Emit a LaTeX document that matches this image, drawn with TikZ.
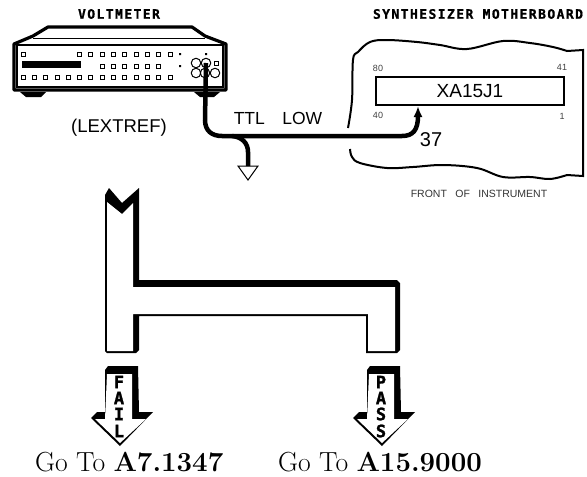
\documentclass[tikz,border=0pt]{standalone}
\usepackage{fontspec}
\setsansfont{Liberation Sans}
\newfontfamily\plotfont[LetterSpace=11, BoldFeatures={FakeBold=1}]{DejaVu Sans Mono}
\newfontfamily\flowfont[BoldFeatures={FakeBold=1.5}]{DejaVu Sans Mono}
\usetikzlibrary{arrows.meta, positioning}
\tikzset{
  titletext/.style={font=\plotfont\bfseries\fontsize{13}{13}\selectfont, inner sep=0pt},
  plainlabel/.style={font=\sffamily\fontsize{18.5}{18.5}\selectfont, inner sep=0pt},
  pintext/.style={font=\sffamily\fontsize{9}{9}\selectfont, text=black!75, inner sep=0pt},
  gotext/.style={font=\fontsize{27.6}{27.6}\selectfont, inner sep=0pt, anchor=base west},
  flowletter/.style={font=\flowfont\bfseries\fontsize{17}{17}\selectfont, inner sep=0pt},
  cable/.style={line width=4.5pt},
  keybox/.style={line width=1pt},
  jackring/.style={draw, circle, line width=1pt, minimum size=9.5pt, inner sep=0pt},
}

\begin{document}
\begin{tikzpicture}[x=1pt, y=-1pt]
\useasboundingbox (0,0) rectangle (587,477);

% voltmetro
\node[titletext] (vmtitle) at (119,14) {VOLTMETER};
\draw[line width=3.2pt, line join=round] (14,44) -- (33,36) -- (48,27) -- (192,27) -- (205,36) -- (226,44) -- (226,90) -- (14,90) -- cycle;
\draw[line width=1pt] (33,38) -- (205,38);
\draw[line width=1.2pt] (17,45) rectangle (223,87);
\fill (20,92) -- (46,92) -- (41,97) -- (26,97) -- cycle;
\fill (194,92) -- (220,92) -- (214,97) -- (200,97) -- cycle;
\fill (22,61) rectangle (81,68);
\draw[keybox] (21,52) rectangle +(4,4) (77,52) rectangle +(4,4) (88,52) rectangle +(4,4) (100,52) rectangle +(4,4) (111,52) rectangle +(4,4) (122,52) rectangle +(4,4) (134,52) rectangle +(4,4) (145,52) rectangle +(4,4) (156,52) rectangle +(4,4) (168,52) rectangle +(4,4);
\draw[keybox] (100,64) rectangle +(4,4) (111,64) rectangle +(4,4) (122,64) rectangle +(4,4) (134,64) rectangle +(4,4) (145,64) rectangle +(4,4) (156,64) rectangle +(4,4);
\draw[keybox] (21,75) rectangle +(4,4) (32,75) rectangle +(4,4) (43,75) rectangle +(4,4) (55,75) rectangle +(4,4) (66,75) rectangle +(4,4) (77,75) rectangle +(4,4) (88,75) rectangle +(4,4) (100,75) rectangle +(4,4) (111,75) rectangle +(4,4) (122,75) rectangle +(4,4) (134,75) rectangle +(4,4) (145,75) rectangle +(4,4) (156,75) rectangle +(4,4) (168,75) rectangle +(4,4);
\draw[keybox] (214,61) rectangle +(4,4);
\fill (179,53) rectangle +(2,2) (179,65) rectangle +(2,2) (205,53) rectangle +(2,2);
\node[jackring] (jacka) at (196,63) {};
\node[jackring] (jackb) at (206,63) {};
\node[jackring] (jackc) at (196,73) {};
\node[jackring] (jackd) at (205,73) {};
\node[jackring] (jacke) at (215,73) {};
\node[plainlabel] (lextref) at (119,128) {(LEXTREF)};

% cable
\coordinate (cablebend) at (222,136);
\coordinate (gndtop) at (248,166);
\node[plainlabel, font=\sffamily\fontsize{17.5}{17.5}\selectfont] (ttllow) at (278,118) {TTL\hspace{1em}LOW};
\node[draw, line width=1.2pt, inner sep=0pt, minimum width=188pt, minimum height=28pt] (xabox) at (470,91) {};
\node[font=\sffamily\fontsize{19}{19}\selectfont, inner sep=0pt] (xalabel) at (xabox.center) {XA15J1};
\coordinate (pin37) at (418,106);
\draw[cable, -{Latex[length=11pt,width=9pt]}] (jackb.center) -- (205,120) .. controls (205,131) and (212,136) .. (cablebend) -- (402,136) .. controls (413,136) and (418,130) .. (pin37);
\draw[cable] (232,136) .. controls (242,137) and (248,143) .. (248,152) -- (gndtop);
\draw[line width=1pt] (gndtop) ++(-10,0) -- ++(20,0) -- ++(-10,14) -- cycle;
\node[plainlabel, font=\sffamily\fontsize{20}{20}\selectfont] (pinnum) at (431,140) {37};

% placa
\node[titletext] (sytitle) at (478,14) {SYNTHESIZER MOTHERBOARD};
\draw[line width=2pt] plot[smooth, tension=0.6] coordinates {(348,128) (352,100) (353,60) (358,52) (370,42) (387,40) (417,42) (440,45) (467,49) (503,41) (530,43) (553,47) (567,51)} -- (583,50) -- (583,176) -- (567,175);
\draw[line width=2pt] plot[smooth, tension=0.6] coordinates {(567,175) (550,179) (530,177) (503,177) (477,168) (443,165) (413,167) (387,168) (360,163) (352,157) (350,149)};
\node[pintext] (pineighty) at (378,68) {80};
\node[pintext] (pinfortyone) at (562,67) {41};
\node[pintext] (pinforty) at (378,115) {40};
\node[pintext] (pinone) at (562,116) {1};
\node[font=\sffamily\fontsize{10.5}{10.5}\selectfont, text=black!80, inner sep=0pt] (frontlabel) at (479,194) {FRONT\hspace{0.8em}OF\hspace{0.8em}INSTRUMENT};

% barra en T
\fill[black] (105,195) -- (109,188) -- (122,203) -- (139,188) -- (139,280) -- (397,280) -- (400,283) -- (400,350) -- (397,353) -- (366,353) -- (366,316) -- (139,316) -- (139,350) -- (136,353) -- (107,353) -- (105,351) -- cycle;
\fill[white] (107,202) -- (122,214) -- (133,203) -- (133,287) -- (395,287) -- (395,351) -- (368,351) -- (368,314) -- (133,314) -- (133,351) -- (107,351) -- cycle;

% FAIL
\begin{scope}[shift={(0,0)}]
\fill[black] (91,418) -- (97,412) -- (105,412) -- (105,370) -- (108,366) -- (138,366) -- (139,412) -- (153,412) -- (120,446) -- cycle;
\fill[white] (95,419) -- (105,419) -- (107,374) -- (132,374) -- (132,419) -- (146,419) -- (120,443) -- cycle;
\node[flowletter] (faila) at (119,382) {F};
\node[flowletter] (failb) at (119,398) {A};
\node[flowletter] (failc) at (119,414) {I};
\node[flowletter] (faild) at (119,431) {L};
\end{scope}

% PASS
\begin{scope}[shift={(262,0)}]
\fill[black] (91,418) -- (97,412) -- (105,412) -- (105,370) -- (108,366) -- (138,366) -- (139,412) -- (153,412) -- (120,446) -- cycle;
\fill[white] (95,419) -- (105,419) -- (107,374) -- (132,374) -- (132,419) -- (146,419) -- (120,443) -- cycle;
\node[flowletter] (passa) at (119,382) {P};
\node[flowletter] (passb) at (119,398) {A};
\node[flowletter] (passc) at (119,414) {S};
\node[flowletter] (passd) at (119,431) {S};
\end{scope}

% destinos
\node[gotext] (gofail) at (35,471) {Go To \textbf{A7.1347}};
\node[gotext] (gopass) at (278,471) {Go To \textbf{A15.9000}};
\end{tikzpicture}
\end{document}
